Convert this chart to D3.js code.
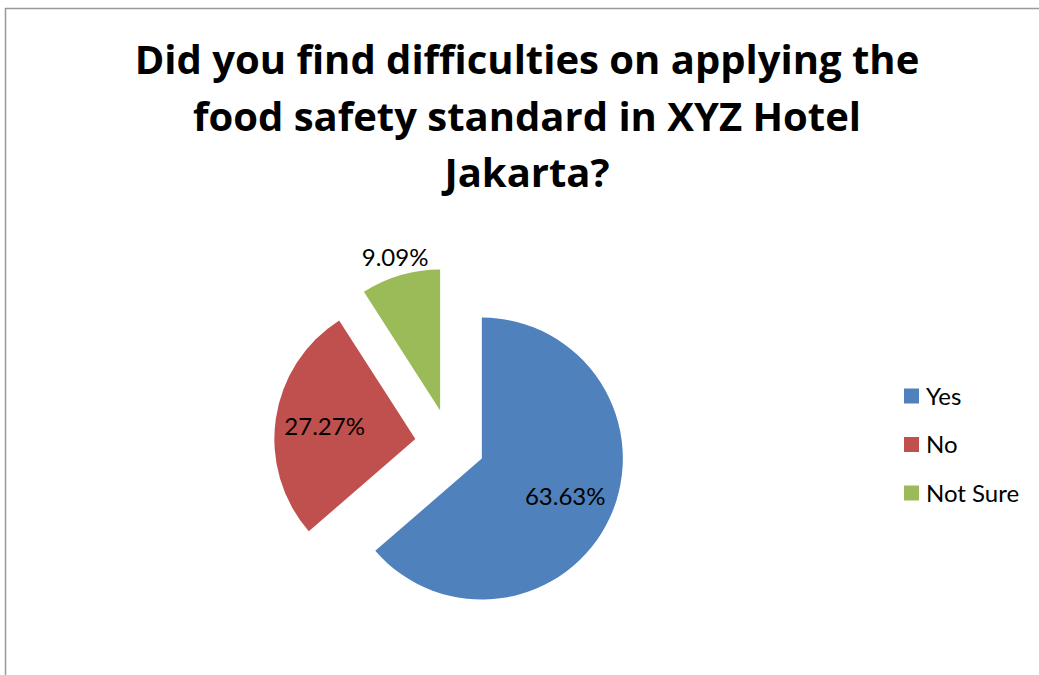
<!DOCTYPE html>
<html>
<head>
<meta charset="utf-8">
<script src="https://cdn.jsdelivr.net/npm/d3@7"></script>
<style>
  body { margin: 0; background: #fff; }
  text { font-family: Lato, "Liberation Sans", sans-serif; fill: #000; }
  .title { font-family: "Open Sans", Lato, sans-serif; }
</style>
</head>
<body>
<svg id="chart" width="1039" height="675"></svg>
<script>
// chart data
const categories = ["Yes", "No", "Not Sure"];
const values = [63.63, 27.27, 9.09];
const labels = ["63.63%", "27.27%", "9.09%"];
const colors = ["#4F81BD", "#C0504D", "#9BBB59"];
const titleLines = ["Did you find difficulties on applying the", "food safety standard in XYZ Hotel", "Jakarta?"];

let svg = d3.select("#chart");

// chart area border (only left and top show in the picture)
svg.append("rect")
    .attr("x", 5.5).attr("y", 8.5)
    .attr("width", 1200).attr("height", 800)
    .attr("fill", "none")
    .attr("stroke", "#999")
    .attr("stroke-width", 1.5);

// title
svg.append("g").selectAll("text")
    .data(titleLines)
    .enter().append("text")
    .attr("class", "title")
    .attr("x", 527)
    .attr("y", (d, i) => 74 + i * 56.5)
    .attr("text-anchor", "middle")
    .style("font-size", "40px")
    .style("font-weight", "bold")
    .text(d => d);

// pie
let radius = 141, explode = 35;
let cx = 450, cy = 444;

let pie = d3.pie().sort(null).value(d => d);
let arcs = pie(values);
let arc = d3.arc().innerRadius(0).outerRadius(radius);
let inLabel = d3.arc().innerRadius(radius * 0.65).outerRadius(radius * 0.65);
let outLabel = d3.arc().innerRadius(radius + 19).outerRadius(radius + 19);

// offset of each exploded slice along its middle angle
function offset(d) {
    let a = (d.startAngle + d.endAngle) / 2;
    return [Math.sin(a) * explode, -Math.cos(a) * explode];
}

let g = svg.append("g").attr("transform", "translate(" + cx + "," + cy + ")");

let slice = g.selectAll("g.slice")
    .data(arcs)
    .enter().append("g")
    .attr("class", "slice")
    .attr("transform", d => "translate(" + offset(d) + ")");

slice.append("path")
    .attr("d", arc)
    .attr("fill", (d, i) => colors[i]);

// small slice gets its label outside
slice.append("text")
    .attr("transform", (d, i) => "translate(" + (d.endAngle - d.startAngle < 0.8 ? outLabel : inLabel).centroid(d) + ")")
    .attr("text-anchor", "middle")
    .attr("dy", "0.36em")
    .style("font-size", "24px")
    .text((d, i) => labels[i]);

// legend
let legend = svg.append("g")
    .selectAll("g")
    .data(categories)
    .enter().append("g")
    .attr("transform", (d, i) => "translate(904," + (396 + i * 48.5) + ")");

legend.append("rect")
    .attr("x", 0).attr("y", -7.5)
    .attr("width", 15).attr("height", 15)
    .attr("fill", (d, i) => colors[i]);

legend.append("text")
    .attr("x", 22)
    .attr("dy", "0.36em")
    .style("font-size", "24px")
    .text(d => d);
</script>
</body>
</html>
